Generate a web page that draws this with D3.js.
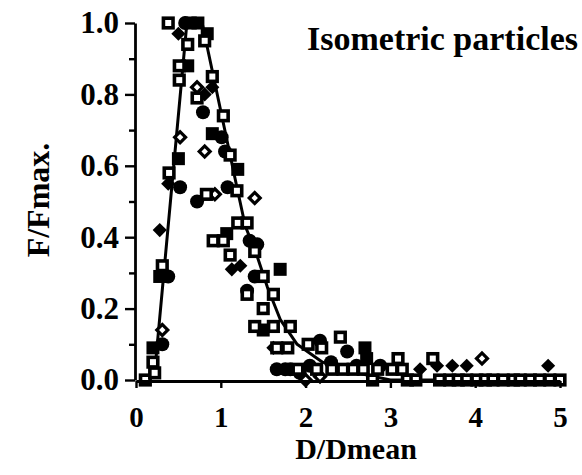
<!DOCTYPE html>
<html>
<head>
<meta charset="utf-8">
<script src="https://cdnjs.cloudflare.com/ajax/libs/d3/7.8.5/d3.min.js"></script>
<style>
  body { margin: 0; background: #fff; }
  svg text { font-family: "Liberation Serif", "Times New Roman", serif; font-weight: bold; fill: #000; }
</style>
</head>
<body>
<svg id="chart" width="582" height="475"></svg>
<script>
"use strict";

// axis ticks
let xTicks = [0, 1, 2, 3, 4, 5];
let yTicks = [0, 0.2, 0.4, 0.6, 0.8, 1.0];
let yMinorTicks = [0.1, 0.3, 0.5, 0.7, 0.9];

// fitted curve
let curveD = [0.15, 0.22, 0.60, 0.78, 1.19, 1.29, 1.41, 1.55, 1.70, 1.90, 2.20, 2.60, 3.00, 5.00];
let curveF = [0.00, 0.02, 1.00, 1.00, 0.54, 0.43, 0.36, 0.26, 0.17, 0.10, 0.05, 0.02, 0.00, 0.00];

// open squares
let openSquareD = [0.11, 0.22, 0.20, 0.31, 0.39, 0.38, 0.61, 0.51, 0.51, 0.72, 0.81, 0.90, 1.03, 1.11, 0.83, 1.19,
  0.91, 1.03, 1.20, 1.31, 1.11, 1.40, 1.50, 1.31, 1.62, 1.50, 1.40, 1.62, 1.82, 1.66, 1.79, 2.03, 2.19, 2.41,
  3.09, 3.50, 1.91, 2.13, 2.31, 2.44, 2.56, 2.68, 2.85, 3.02, 3.14,
  2.79, 3.20, 3.30, 3.58, 3.70, 3.80, 3.90, 4.02, 4.12, 4.21, 4.33, 4.45, 4.53, 4.65, 4.76, 4.88, 5.00];
let openSquareF = [0.00, 0.02, 0.05, 0.32, 0.58, 1.00, 0.94, 0.88, 0.84, 0.79, 0.95, 0.85, 0.74, 0.63, 0.52, 0.53,
  0.39, 0.39, 0.44, 0.44, 0.35, 0.36, 0.29, 0.24, 0.24, 0.20, 0.15, 0.15, 0.15, 0.09, 0.09, 0.10, 0.09, 0.12,
  0.06, 0.06, 0.03, 0.03, 0.03, 0.03, 0.03, 0.03, 0.03, 0.03, 0.03,
  0.00, 0.00, 0.00, 0.00, 0.00, 0.00, 0.00, 0.00, 0.00, 0.00, 0.00, 0.00, 0.00, 0.00, 0.00, 0.00, 0.00];

// filled squares
let fillSquareD = [0.64, 0.73, 0.84, 0.61, 0.90, 0.50, 1.20, 0.28, 0.20, 1.07, 1.50, 1.70, 2.70, 2.72];
let fillSquareF = [1.00, 1.00, 0.97, 0.88, 0.69, 0.62, 0.59, 0.29, 0.09, 0.41, 0.14, 0.31, 0.09, 0.06];

// filled circles
let fillCircleD = [0.58, 0.79, 1.01, 1.05, 0.52, 0.72, 1.08, 0.38, 0.31, 1.34, 1.43, 1.40, 1.66, 2.17, 1.82,
  2.49, 2.88, 1.31, 1.76, 1.93, 2.05, 2.30, 2.60];
let fillCircleF = [1.00, 0.75, 0.68, 0.64, 0.54, 0.50, 0.54, 0.29, 0.10, 0.39, 0.38, 0.29, 0.03, 0.11, 0.03,
  0.08, 0.04, 0.25, 0.03, 0.02, 0.04, 0.05, 0.04];

// open diamonds
let openDiamondD = [0.72, 0.52, 0.93, 1.40, 0.31, 0.81, 4.08, 2.17, 2.00];
let openDiamondF = [0.82, 0.68, 0.52, 0.51, 0.14, 0.64, 0.06, 0.01, 0.00];

// filled diamonds
let fillDiamondD = [0.50, 0.81, 0.38, 0.28, 1.13, 1.23, 1.62, 3.35, 3.55, 3.73, 3.90, 4.86, 0.90];
let fillDiamondF = [0.97, 0.80, 0.55, 0.42, 0.31, 0.32, 0.09, 0.03, 0.04, 0.04, 0.04, 0.04, 0.82];

let svg = d3.select('svg#chart');

let xScale = d3.scaleLinear().domain([0, 5]).range([136, 560]);
let yScale = d3.scaleLinear().domain([0, 1]).range([380, 23]);

let zip = (xs, ys) => xs.map((x, i) => [x, ys[i]]);

/* curve */
let drawLine = d3.line()
  .x(d => xScale(d[0]))
  .y(d => yScale(d[1]));

svg.append('path')
  .attr('d', drawLine(zip(curveD, curveF)))
  .attr('fill', 'none')
  .attr('stroke', '#000')
  .attr('stroke-width', 3)
  .attr('stroke-linejoin', 'round');

/* markers */
svg.append('g').selectAll('circle')
  .data(zip(fillCircleD, fillCircleF))
  .enter()
  .append('circle')
  .attr('cx', d => xScale(d[0]))
  .attr('cy', d => yScale(d[1]))
  .attr('r', 7)
  .attr('fill', '#000');

svg.append('g').selectAll('rect')
  .data(zip(fillSquareD, fillSquareF))
  .enter()
  .append('rect')
  .attr('x', d => xScale(d[0]) - 6.5)
  .attr('y', d => yScale(d[1]) - 6.5)
  .attr('width', 13)
  .attr('height', 13)
  .attr('fill', '#000');

svg.append('g').selectAll('path')
  .data(zip(fillDiamondD, fillDiamondF))
  .enter()
  .append('path')
  .attr('d', d3.symbol().type(d3.symbolSquare).size(100))
  .attr('transform', d => `translate(${xScale(d[0])},${yScale(d[1])}) rotate(45)`)
  .attr('fill', '#000');

svg.append('g').selectAll('path')
  .data(zip(openDiamondD, openDiamondF))
  .enter()
  .append('path')
  .attr('d', d3.symbol().type(d3.symbolSquare).size(60))
  .attr('transform', d => `translate(${xScale(d[0])},${yScale(d[1])}) rotate(45)`)
  .attr('fill', '#fff')
  .attr('stroke', '#000')
  .attr('stroke-width', 3.2);

svg.append('g').selectAll('rect')
  .data(zip(openSquareD, openSquareF))
  .enter()
  .append('rect')
  .attr('x', d => xScale(d[0]) - 4.8)
  .attr('y', d => yScale(d[1]) - 4.8)
  .attr('width', 9.6)
  .attr('height', 9.6)
  .attr('fill', '#fff')
  .attr('stroke', '#000')
  .attr('stroke-width', 3.6);

/* axes */
let yAxis = svg.append('g')
  .attr('transform', `translate(${xScale(0) - 1}, 0)`)
  .call(d3.axisLeft(yScale).tickValues(yTicks).tickFormat(d3.format('.1f')).tickSize(10).tickSizeOuter(0).tickPadding(6));

svg.append('g')
  .attr('transform', `translate(${xScale(0) - 1}, 0)`)
  .call(d3.axisLeft(yScale).tickValues(yMinorTicks).tickFormat('').tickSize(6).tickSizeOuter(0))
  .select('.domain').remove();

let xAxis = svg.append('g')
  .attr('transform', `translate(0, ${yScale(0) + 1})`)
  .call(d3.axisBottom(xScale).tickValues(xTicks).tickFormat(d3.format('d')).tickSize(7).tickSizeOuter(0).tickPadding(18));

svg.selectAll('.domain').attr('stroke-width', 2.8);
svg.selectAll('.tick line').attr('stroke-width', 2.4);
svg.selectAll('.tick text')
  .attr('font-family', null)
  .attr('font-size', null);
yAxis.selectAll('.tick text').style('font-size', '31px');
xAxis.selectAll('.tick text').style('font-size', '29px');

/* labels */
svg.append('text')
  .attr('text-anchor', 'middle')
  .attr('x', 356)
  .attr('y', 459)
  .style('font-size', '30px')
  .text('D/Dmean');

svg.append('text')
  .attr('text-anchor', 'middle')
  .attr('transform', 'translate(49, 200) rotate(-90)')
  .style('font-size', '32px')
  .text('F/Fmax.');

svg.append('text')
  .attr('text-anchor', 'end')
  .attr('x', 578)
  .attr('y', 50)
  .style('font-size', '34px')
  .text('Isometric particles');
</script>
</body>
</html>
